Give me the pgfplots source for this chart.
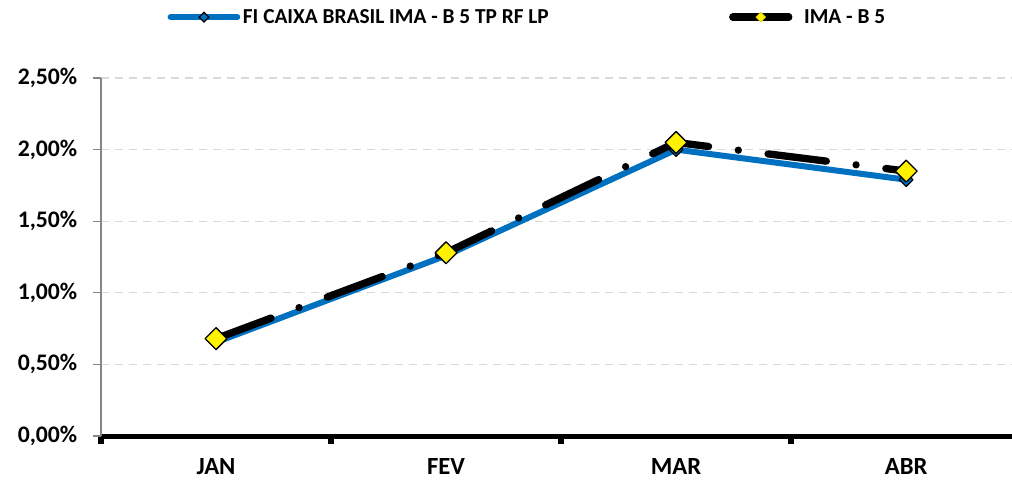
\documentclass[border=0pt]{standalone}
\usepackage{pgfplots}
\pgfplotsset{compat=1.18}
\usepackage{fontspec}
\setmainfont{Carlito}
\definecolor{fundblue}{RGB}{0,112,192}
\definecolor{gridgray}{RGB}{217,217,217}
\definecolor{axisgray}{RGB}{134,134,134}
\pgfplotsset{
  leglong/.style={legend image code/.code={\draw[mark repeat=2,mark phase=2,##1] plot coordinates {(0pt,0pt) (25pt,0pt) (50pt,0pt)};}},
  legshort/.style={legend image code/.code={\draw[mark repeat=2,mark phase=2,##1] plot coordinates {(0pt,0pt) (21pt,0pt) (42pt,0pt)};}},
}
\begin{document}
\begin{tikzpicture}
\useasboundingbox (-75.75pt,-33pt) rectangle (683.25pt,327pt);
\begin{axis}[
  at={(0pt,0pt)}, anchor=south west,
  scale only axis, width=683.25pt, height=268.5pt,
  xmin=-0.5, xmax=3.46, ymin=0, ymax=2.5,
  axis x line*=bottom, axis y line*=left,
  x axis line style={black, line width=3.75pt},
  y axis line style={axisgray, line width=1pt},
  tick align=outside,
  xtick={-0.5,0.5,1.5,2.5}, xticklabels={},
  xtick style={black, line width=4.2pt, /pgfplots/major tick length=6pt},
  extra x ticks={0,1,2,3}, extra x tick labels={JAN,FEV,MAR,ABR},
  extra x tick style={major tick length=0pt, tick style={draw=none},
     xticklabel style={font=\fontsize{18.5pt}{22pt}\selectfont\bfseries, inner sep=0pt, anchor=north, yshift=-16.5pt}},
  ytick={0,0.5,1,1.5,2,2.5},
  yticklabels={{0,00\%},{0,50\%},{1,00\%},{1,50\%},{2,00\%},{2,50\%}},
  ytick style={axisgray, line width=0.8pt, /pgfplots/major tick length=6pt},
  ymajorgrids, grid style={gridgray, line width=0.9pt, dash pattern=on 6pt off 4.5pt},
  yticklabel style={font=\fontsize{17.8pt}{21pt}\selectfont\bfseries, xshift=-10pt},
  clip=false,
  legend columns=2,
  legend style={draw=none, fill=none, at={(0.4684,1.17)}, anchor=center,
    font=\fontsize{16pt}{19pt}\selectfont\bfseries,
    /tikz/every even column/.append style={column sep=133.25pt}},
]
\addplot[forget plot, fundblue, line width=4.5pt, line cap=round, line join=round,
  mark=square*, mark size=3.6pt, mark options={rotate=45, fill=fundblue, draw=black, line width=0.9pt, solid}]
  coordinates {(0,0.655) (1,1.26) (2,2.00) (3,1.79)};
\addplot[forget plot, black, line width=5.5pt, line cap=round, line join=round,
  dash pattern=on 44pt off 22.5pt on 0pt off 22.5pt,
  mark=square*, mark size=5.8pt, mark options={rotate=45, fill=yellow, draw=black, line width=1pt, solid}]
  coordinates {(0,0.68) (1,1.28) (2,2.05) (3,1.85)};
\addlegendimage{leglong, fundblue, line width=4.5pt, line cap=round, mark=square*, mark size=2.6pt,
  mark options={rotate=45, fill=fundblue, draw=black, line width=0.9pt, solid}}
\addlegendentry{FI CAIXA BRASIL IMA - B 5 TP RF LP}
\addlegendimage{legshort, black, line width=5.5pt, line cap=round, mark=square*, mark size=2.6pt,
  mark options={rotate=45, fill=yellow, draw=yellow!80!black, line width=0.4pt, solid}}
\addlegendentry{\hspace*{6.75pt}IMA - B 5}
\end{axis}
\end{tikzpicture}
\end{document}
